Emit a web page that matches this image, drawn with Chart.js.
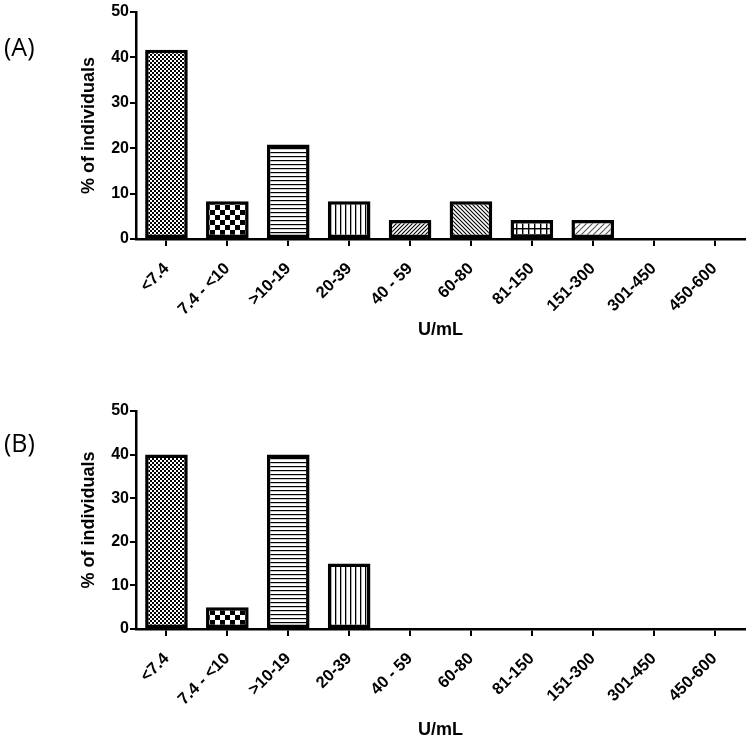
<!DOCTYPE html>
<html><head><meta charset="utf-8">
<script src="https://cdn.jsdelivr.net/npm/chart.js@4/dist/chart.umd.min.js"></script>
<style>
html,body{margin:0;padding:0;background:#fff;}
#wrap{position:relative;width:750px;height:744px;overflow:hidden;background:#fff;}
.panel{position:absolute;left:0;width:750px;}
.lab{position:absolute;left:4px;font-family:"Open Sans",sans-serif;font-size:25px;line-height:30px;color:#000;}
</style></head><body>
<div id="wrap">
<div class="panel" style="top:0;height:345px"><canvas id="cA"></canvas></div>
<div class="panel" style="top:390px;height:354px"><canvas id="cB"></canvas></div>
<div class="lab" style="top:31px">(A)</div>
<div class="lab" style="top:427px">(B)</div>
</div>
<script>
const categories = ['<7.4', '7.4 - <10', '>10-19', '20-39', '40 - 59', '60-80', '81-150', '151-300', '301-450', '450-600'];
const valuesA = [41.7, 8.3, 20.8, 8.3, 4.2, 8.3, 4.2, 4.2, 0, 0];
const valuesB = [40, 5, 40, 15, 0, 0, 0, 0, 0, 0];
const yTicks = [0, 10, 20, 30, 40, 50];
const xTitle = 'U/mL';
const yTitle = '% of individuals';
const patternNames = ['fineCheck', 'coarseCheck', 'hLines', 'vLines', 'diagUp', 'diagDown', 'grid', 'diagDash', 'none', 'none'];

function makePattern(kind) {
  const c = document.createElement('canvas');
  const ctx = c.getContext('2d');
  let s = 4;
  if (kind === 'fineCheck') { s = 4; c.width = c.height = s; ctx.fillStyle = '#fff'; ctx.fillRect(0,0,s,s); ctx.fillStyle = '#000'; ctx.fillRect(0,0,2,2); ctx.fillRect(2,2,2,2); }
  else if (kind === 'coarseCheck') { s = 10; c.width = c.height = s; ctx.fillStyle = '#fff'; ctx.fillRect(0,0,s,s); ctx.fillStyle = '#000'; ctx.fillRect(0,0,5,5); ctx.fillRect(5,5,5,5); }
  else if (kind === 'hLines') { s = 4; c.width = c.height = s; ctx.fillStyle = '#fff'; ctx.fillRect(0,0,s,s); ctx.fillStyle = '#000'; ctx.fillRect(0,0,s,1.2); }
  else if (kind === 'vLines') { s = 5; c.width = c.height = s; ctx.fillStyle = '#fff'; ctx.fillRect(0,0,s,s); ctx.fillStyle = '#000'; ctx.fillRect(0,0,1.3,s); }
  else if (kind === 'diagUp' || kind === 'diagDown' || kind === 'diagDash') {
    s = kind === 'diagDash' ? 6 : 4; c.width = c.height = s;
    ctx.fillStyle = '#fff'; ctx.fillRect(0,0,s,s);
    ctx.strokeStyle = kind === 'diagDash' ? '#555' : '#000'; ctx.lineWidth = 1.1;
    ctx.beginPath();
    if (kind === 'diagDown') {
      ctx.moveTo(-1,-1); ctx.lineTo(s+1,s+1); ctx.moveTo(-1,s-1); ctx.lineTo(1,s+1); ctx.moveTo(s-1,-1); ctx.lineTo(s+1,1);
    } else {
      ctx.moveTo(-1,s+1); ctx.lineTo(s+1,-1); ctx.moveTo(-1,1); ctx.lineTo(1,-1); ctx.moveTo(s-1,s+1); ctx.lineTo(s+1,s-1);
    }
    ctx.stroke();
  }
  else if (kind === 'grid') { s = 6; c.width = c.height = s; ctx.fillStyle = '#fff'; ctx.fillRect(0,0,s,s); ctx.fillStyle = '#000'; ctx.fillRect(0,0,s,1.4); ctx.fillRect(0,0,1.4,s); }
  else { c.width = c.height = 2; ctx.fillStyle = '#fff'; ctx.fillRect(0,0,2,2); }
  return ctx.createPattern(c, 'repeat');
}

const FONT = "'Liberation Sans', Arial, sans-serif";

function buildChart(id, values, padTop, xHeight, titleBottom) {
  const ctx = document.getElementById(id).getContext('2d');
  const patterns = patternNames.map(makePattern);
  return new Chart(ctx, {
    type: 'bar',
    data: {
      labels: categories,
      datasets: [{
        data: values,
        backgroundColor: patterns,
        borderColor: '#000',
        borderWidth: c => (c.raw > 0 ? 3.5 : 0),
        borderSkipped: false,
        categoryPercentage: 1,
        barPercentage: 0.7
      }]
    },
    options: {
      responsive: true,
      maintainAspectRatio: false,
      animation: false,
      devicePixelRatio: 1,
      layout: { padding: { top: padTop, right: 5, left: 0, bottom: 0 } },
      plugins: { legend: { display: false }, tooltip: { enabled: false } },
      scales: {
        x: {
          type: 'category',
          offset: true,
          grid: { display: true, drawOnChartArea: false, drawTicks: true, tickLength: 7, tickWidth: 2, tickColor: '#000', color: '#000', offset: false, lineWidth: 2 },
          border: { display: true, color: '#000', width: 2.5 },
          ticks: { color: '#000', font: { family: FONT, size: 16.5, weight: 'bold' }, maxRotation: 45, minRotation: 45, autoSkip: false, padding: 13 },
          title: { display: true, text: xTitle, color: '#000', font: { family: FONT, size: 18, weight: 'bold' }, padding: { top: 0, bottom: titleBottom } },
          afterFit: s => { s.height = xHeight; }
        },
        y: {
          min: 0, max: 50,
          afterBuildTicks: s => { s.ticks = yTicks.map(v => ({ value: v })); },
          grid: { display: true, drawOnChartArea: false, drawTicks: true, tickLength: 6, tickWidth: 2, tickColor: '#000', color: '#000', lineWidth: 2 },
          border: { display: true, color: '#000', width: 2.5 },
          ticks: { color: '#000', font: { family: FONT, size: 16, weight: 'bold' }, padding: 1 },
          title: { display: true, text: yTitle, color: '#000', font: { family: FONT, size: 18, weight: 'bold' }, padding: { top: 78, bottom: 0 } },
          afterFit: s => { s.width = 136; }
        }
      }
    }
  });
}

buildChart('cA', valuesA, 12, 106, 4);
buildChart('cB', valuesB, 21, 115, 3);
</script>
</body></html>
